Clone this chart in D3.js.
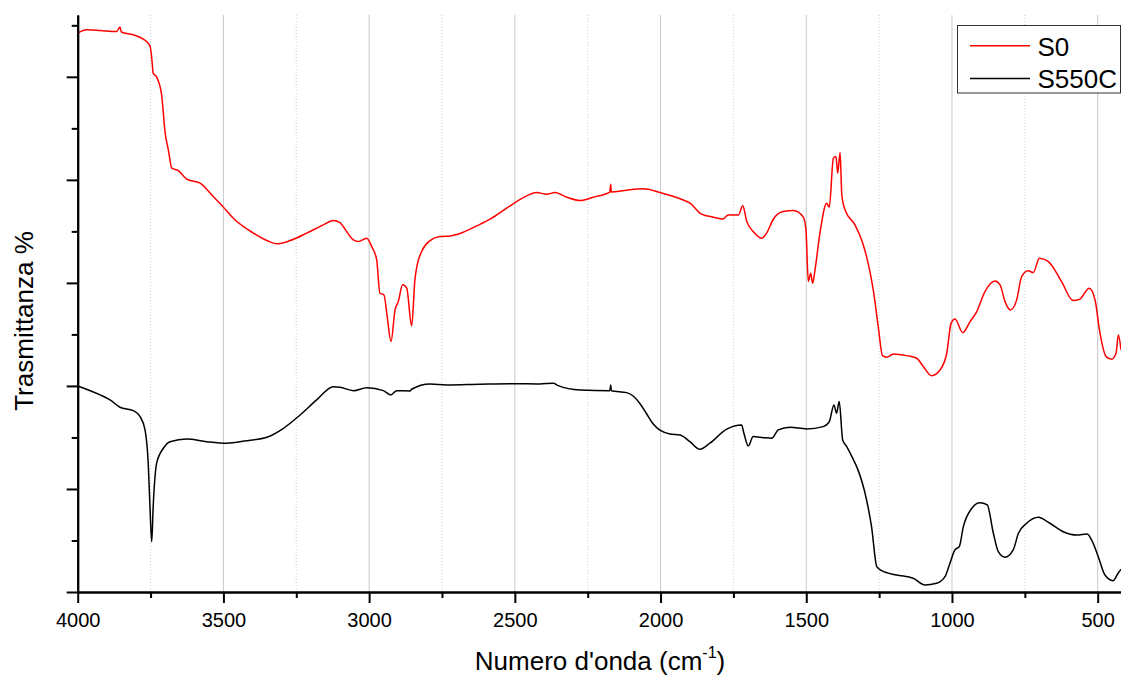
<!DOCTYPE html>
<html>
<head>
<meta charset="utf-8">
<script src="https://cdn.jsdelivr.net/npm/d3@7"></script>
<style>
  html, body { margin: 0; padding: 0; background: #fff; }
  svg { display: block; font-family: Arial, "Liberation Sans", sans-serif; }
</style>
</head>
<body>
<svg id="chart" width="1121" height="676"></svg>
<script>
// ---------------- DATA ----------------
const seriesNames = ["S0", "S550C"];
const seriesColors = ["#ff0000", "#000000"];

// S0 : wavenumber (cm-1) / transmittance (arbitrary, offset)
const s0Wn = [4000,3969,3923,3866,3855,3850,3810,3775,3752,3746,3741,3729,3712,3700,3689,3677,3655,3626,3580,3535,3500,3466,3397,3351,3317,3271,3214,3157,3123,3100,3089,3054,3037,3008,2991,2974,2963,2949,2938,2925,2911,2900,2885,2871,2854,2843,2835,2820,2791,2757,2722,2677,2631,2585,2528,2471,2425,2391,2362,2322,2276,2231,2174,2171,2169,2116,2059,2002,1933,1899,1859,1819,1785,1768,1733,1718,1704,1682,1653,1636,1613,1579,1544,1510,1501,1493,1485,1478,1470,1453,1430,1421,1407,1398,1392,1384,1378,1367,1333,1310,1293,1270,1253,1238,1224,1201,1155,1121,1098,1070,1041,1018,1003,990,963,938,915,887,852,835,818,799,778,761,738,721,700,669,624,584,561,529,509,494,471,452,437,429,420];
const s0T  = [54.24,54.56,54.50,54.40,54.83,54.35,54.08,53.66,53.01,51.84,50.36,49.97,48.25,44.56,42.91,41.14,40.90,40.07,39.68,38.38,37.35,36.28,34.83,34.11,33.79,34.11,34.83,35.63,36.05,35.85,35.47,34.17,34.01,34.34,33.52,32.23,29.00,28.83,26.73,24.30,27.38,28.18,29.81,29.49,25.83,30.29,31.75,33.04,34.11,34.50,34.56,34.92,35.53,36.18,37.25,38.28,38.77,38.61,38.77,38.32,37.99,38.32,38.81,39.58,38.81,39.00,39.13,38.77,38.16,37.74,36.67,36.38,36.21,36.60,36.60,37.48,35.95,34.98,34.34,34.83,36.18,36.92,37.02,36.38,35.15,30.13,30.94,29.97,31.26,34.83,37.74,37.35,42.11,42.26,40.65,42.65,38.54,37.09,35.63,34.17,32.55,29.32,25.76,22.91,22.79,23.11,22.94,22.69,21.87,21.00,21.55,23.17,26.09,26.50,25.17,26.24,27.21,29.16,30.19,29.81,28.18,27.38,28.35,30.61,31.17,31.00,32.40,32.07,30.13,28.28,28.42,29.49,28.35,25.44,22.84,22.59,23.17,24.95,23.50];

// S550C
const s550Wn = [4000,3923,3889,3855,3809,3786,3769,3758,3752,3746,3741,3729,3706,3683,3626,3557,3489,3420,3351,3294,3237,3180,3123,3100,3054,3008,2951,2926,2905,2860,2854,2791,2734,2619,2505,2414,2368,2351,2276,2174,2171,2169,2116,2093,2071,2048,2025,2002,1968,1933,1899,1865,1831,1773,1722,1714,1699,1682,1647,1619,1596,1556,1499,1442,1421,1405,1396,1387,1375,1361,1339,1327,1293,1276,1258,1241,1190,1133,1093,1053,1024,1007,990,975,961,932,904,879,858,841,818,790,772,744,704,664,618,572,536,521,498,475,447,430,420];
const s550T  = [20.00,19.13,18.64,17.93,17.60,17.02,15.73,12.50,8.28,4.88,8.28,12.50,13.95,14.59,14.85,14.59,14.44,14.69,15.02,15.89,17.18,18.64,19.93,19.87,19.54,19.83,19.54,19.13,19.54,19.51,19.68,20.19,20.10,20.17,20.22,20.19,20.26,20.03,19.61,19.54,20.10,19.54,19.35,19.00,18.30,17.30,16.30,15.70,15.34,15.24,14.59,13.85,14.44,15.80,16.21,15.41,14.17,15.08,14.98,14.92,15.73,15.99,15.83,16.05,16.53,18.16,17.35,18.48,14.76,14.11,12.88,12.17,8.93,6.34,2.46,2.07,1.65,1.33,0.68,0.84,1.49,2.79,4.08,4.40,6.34,8.13,8.67,8.45,5.70,3.91,3.37,4.08,5.70,6.67,7.25,6.67,5.85,5.53,5.63,5.05,3.43,1.65,1.10,1.82,2.20];

const xMajorTicks = [4000, 3500, 3000, 2500, 2000, 1500, 1000, 500];
const xMinorTicks = [3750, 3250, 2750, 2250, 1750, 1250, 750];
const yMajorTicks = [0, 10, 20, 30, 40, 50];
const yMinorTicks = [5, 15, 25, 35, 45, 55];
const xDomain = [4000, 420];
const yDomain = [0, 56];
const xTitle = "Numero d'onda (cm";
const yTitle = "Trasmittanza %";

// ---------------- LAYOUT ----------------
const svg = d3.select("#chart");
const L = 77.7, R = 1121, T = 15, B = 592;
const x = d3.scaleLinear().domain(xDomain).range([L, R]);
const y = d3.scaleLinear().domain(yDomain).range([B, T]);

// grid lines
const grid = svg.append("g");
grid.selectAll("line.maj").data(xMajorTicks.filter(d => d !== 4000)).enter().append("line")
  .attr("x1", d => x(d)).attr("x2", d => x(d)).attr("y1", T).attr("y2", B)
  .attr("stroke", "#c8c8c8").attr("stroke-width", 1);
grid.selectAll("line.min").data(xMinorTicks).enter().append("line")
  .attr("x1", d => x(d)).attr("x2", d => x(d)).attr("y1", T).attr("y2", B)
  .attr("stroke", "#cfcfcf").attr("stroke-width", 1).attr("stroke-dasharray", "1,2");

// curves
svg.append("clipPath").attr("id", "clip").append("rect")
  .attr("x", L).attr("y", T - 5).attr("width", R - L).attr("height", B - T + 5);
const line = d3.line().x(d => x(d[0])).y(d => y(d[1])).curve(d3.curveMonotoneX);
const series = [d3.zip(s0Wn, s0T), d3.zip(s550Wn, s550T)];
const plot = svg.append("g").attr("clip-path", "url(#clip)");
series.forEach((s, i) => {
  plot.append("path").datum(s).attr("d", line)
    .attr("fill", "none").attr("stroke", seriesColors[i]).attr("stroke-width", 1.5)
    .attr("stroke-linejoin", "round");
});

// axes
const xAxisMaj = d3.axisBottom(x).tickValues(xMajorTicks).tickSize(11).tickSizeOuter(0).tickPadding(10).tickFormat(d3.format("d"));
const xAxisMin = d3.axisBottom(x).tickValues(xMinorTicks).tickSize(6).tickSizeOuter(0).tickFormat("");
const gxMin = svg.append("g").attr("transform", `translate(0,${B})`).call(xAxisMin);
const gx = svg.append("g").attr("transform", `translate(0,${B})`).call(xAxisMaj);
[gx, gxMin].forEach(g => {
  g.select(".domain").attr("stroke", "#000").attr("stroke-width", 2);
  g.selectAll(".tick line").attr("stroke", "#000").attr("stroke-width", 2);
});
gx.selectAll(".tick text").attr("font-size", 20).attr("fill", "#000")
  .attr("font-family", "Arial, 'Liberation Sans', sans-serif");

const yAxisMaj = d3.axisLeft(y).tickValues(yMajorTicks).tickSize(11).tickSizeOuter(0).tickFormat("");
const yAxisMin = d3.axisLeft(y).tickValues(yMinorTicks).tickSize(6).tickSizeOuter(0).tickFormat("");
const gyMin = svg.append("g").attr("transform", `translate(${L},0)`).call(yAxisMin);
const gy = svg.append("g").attr("transform", `translate(${L},0)`).call(yAxisMaj);
[gy, gyMin].forEach(g => {
  g.select(".domain").attr("stroke", "#000").attr("stroke-width", 2);
  g.selectAll(".tick line").attr("stroke", "#000").attr("stroke-width", 2);
});

// titles
const xt = svg.append("text").attr("x", 600).attr("y", 670).attr("text-anchor", "middle")
  .attr("font-size", 26).attr("fill", "#000");
xt.append("tspan").text(xTitle);
xt.append("tspan").attr("font-size", 16).attr("dy", -12).text("-1");
xt.append("tspan").attr("dy", 12).text(")");

svg.append("text").attr("transform", "translate(32.5,321) rotate(-90)")
  .attr("text-anchor", "middle").attr("font-size", 26).attr("fill", "#000").text(yTitle);

// legend
const lg = svg.append("g");
lg.append("rect").attr("x", 957.5).attr("y", 25.5).attr("width", 163).attr("height", 67.5)
  .attr("fill", "#fff").attr("stroke", "#333").attr("stroke-width", 1);
const legY = [45.7, 78.5];
const legBase = [55.7, 88.3];
seriesNames.forEach((n, i) => {
  lg.append("line").attr("x1", 970).attr("x2", 1030).attr("y1", legY[i]).attr("y2", legY[i])
    .attr("stroke", seriesColors[i]).attr("stroke-width", 1.5);
  lg.append("text").attr("x", 1037.5).attr("y", legBase[i]).attr("font-size", 26)
    .attr("fill", "#000").text(n);
});
</script>
</body>
</html>
